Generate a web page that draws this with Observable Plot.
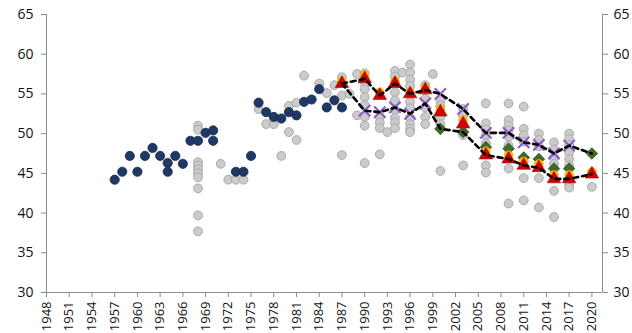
<!DOCTYPE html>
<html>
<head>
<meta charset="utf-8">
<script src="https://cdn.jsdelivr.net/npm/d3@7"></script>
<script src="https://cdn.jsdelivr.net/npm/@observablehq/plot@0.6"></script>
<style>
  html, body { margin: 0; padding: 0; background: #fff; }
  #chart svg { display: block; }
</style>
</head>
<body>
<div id="chart"></div>
<script>
// Tick labels
const xTickYears = [1948,1951,1954,1957,1960,1963,1966,1969,1972,1975,1978,1981,1984,1987,1990,1993,1996,1999,2002,2005,2008,2011,2014,2017,2020];
const yTicks = [30,35,40,45,50,55,60,65];

// Historical (navy) points
const navyYears  = [1957,1958,1959,1960,1961,1962,1963,1964,1964,1965,1966,1967,1968,1969,1970,1970,1973,1974,1975,1976,1977,1978,1979,1980,1981,1982,1983,1984,1985,1986,1987];
const navyValues = [44.2,45.2,47.2,45.2,47.2,48.2,47.2,46.3,45.2,47.2,46.2,49.1,49.1,50.1,50.4,49.1,45.2,45.2,47.2,53.9,52.7,52.1,51.9,52.7,52.3,54.0,54.3,55.6,53.3,54.2,53.3];

// Individual forecasts (grey)
const greyYears = [1968,1971,1972,1973,1974,1976,1977,1978,1979,1980,1981,1982,1984,1985,1986,1987,1988,1989,1990,1992,1993,1994,1995,1996,1998,1999,2000,2003,2006,2009,2011,2013,2015,2017,2020];
const greyValues = [
  [51.0,50.5,46.4,46.0,45.5,45.0,44.5,43.1,39.7,37.7],
  [46.2],[44.2],[44.2],[44.2],[53.1],[51.2],[51.2],[47.2],
  [53.5,50.2],[53.9,49.2],[57.3],[56.3],[55.1],[56.1],
  [57.1,54.8,47.3],[55.0],[57.5,52.3],
  [57.6,56.3,55.6,54.6,53.6,52.1,51.0,46.3],
  [52.1,51.4,50.7,47.4],[50.2],
  [57.9,57.2,55.2,54.2,53.0,52.0,51.4,50.7],[57.7],
  [58.7,57.7,56.8,56.0,54.0,53.2,52.0,51.2,50.6,50.2],
  [56.1,54.4,53.3,52.1,51.2],[57.5],
  [54.2,53.5,52.1,51.2,45.3],
  [53.1,52.3,49.8,46.0],
  [53.8,51.3,50.5,49.8,48.8,46.0,45.1],
  [53.8,51.7,51.0,50.4,49.6,48.5,45.6,41.2],
  [53.4,50.6,49.8,49.0,44.4,41.6],
  [50.0,49.2,48.4,44.4,40.7],
  [48.9,48.0,47.0,46.2,42.8,39.5],
  [50.0,49.3,48.6,47.6,46.8,46.0,43.6,43.2],
  [43.3]
];

// Highlighted forecast series
const orangeYears  = [1987,1990,1992,1994,1996,1998,2000,2003,2006,2009,2011,2013,2015,2017,2020];
const orangeValues = [56.6,57.4,55.2,56.6,55.2,55.8,53.1,51.7,47.8,47.3,46.5,46.2,44.8,44.8,45.2];
const triangleYears  = [1987,1990,1992,1994,1996,1998,2000,2003,2006,2009,2011,2013,2015,2017,2020];
const triangleValues = [56.3,56.9,54.8,56.3,55.0,55.5,52.7,51.2,47.3,46.8,46.0,45.7,44.3,44.3,44.9];
const diamondYears  = [2000,2003,2006,2009,2011,2013,2015,2017,2020];
const diamondValues = [50.6,50.2,48.3,48.1,47.0,46.8,45.6,45.6,47.5];
const crossYears  = [1990,1992,1994,1996,1998,2000,2003,2006,2009,2011,2013,2015,2017];
const crossValues = [52.9,52.7,53.3,52.5,53.8,55.0,53.1,50.1,50.1,48.9,48.6,47.5,48.5];

// Dashed envelope lines
const upperYears  = [1987,1990,1992,1994,1996,1998,2000,2003,2006,2009,2011,2013,2015,2017,2020];
const upperValues = [56.3,56.9,54.8,56.3,55.0,55.5,55.0,53.1,50.1,50.1,48.9,48.6,47.5,48.5,47.5];
const lowerYears  = [1987,1990,1992,1994,1996,1998,2000,2003,2006,2009,2011,2013,2015,2017,2020];
const lowerValues = [56.3,52.9,52.7,53.3,52.5,53.8,50.6,50.2,47.3,46.8,46.0,45.7,44.3,44.3,44.9];

const pts = (xs, ys) => xs.map((x, i) => ({x, y: ys[i]}));
const grey = greyYears.flatMap((yr, i) => greyValues[i].map(v => ({x: yr, y: v})));
const navy = pts(navyYears, navyValues);
const orange = pts(orangeYears, orangeValues);
const tri = pts(triangleYears, triangleValues);
const dia = pts(diamondYears, diamondValues);
const cross = pts(crossYears, crossValues);
const upper = pts(upperYears, upperValues);
const lower = pts(lowerYears, lowerValues);

const xMax = 2021.4;
const axisColor = "#8c8c8c";
const font = "'Open Sans', 'Liberation Sans', sans-serif";

const chart = Plot.plot({
  width: 632,
  height: 333,
  marginLeft: 46,
  marginRight: 30,
  marginTop: 14,
  marginBottom: 41,
  style: {fontFamily: font, fontSize: "13px", color: "#111", background: "#fff"},
  x: {domain: [1948, xMax], axis: null},
  y: {domain: [30, 65], axis: null},
  marks: [
    Plot.ruleX([1948, xMax], {stroke: axisColor, strokeWidth: 1}),
    Plot.ruleY([30], {stroke: axisColor, strokeWidth: 1}),
    Plot.axisY({anchor: "left", ticks: yTicks, tickSize: 5, tickPadding: 8, stroke: axisColor, color: "#111", fontSize: 14, label: null}),
    Plot.axisY({anchor: "right", ticks: yTicks, tickSize: 5, tickPadding: 6, stroke: axisColor, color: "#111", fontSize: 14, label: null}),
    Plot.axisX({anchor: "bottom", ticks: xTickYears, tickFormat: d => String(d), tickRotate: -90, tickSize: 5, tickPadding: 4, stroke: axisColor, color: "#111", fontSize: 13, label: null}),
    Plot.dot(grey, {x: "x", y: "y", r: 4.4, fill: "#cbcbcb", stroke: "#a9a9a9", strokeWidth: 1}),
    Plot.dot(navy, {x: "x", y: "y", r: 4.6, fill: "#1f3864", stroke: "#17294b", strokeWidth: 0.8}),
    Plot.dot(dia, {x: "x", y: "y", symbol: "diamond2", r: 5.2, fill: "#3f6b2a", stroke: "#2f5020", strokeWidth: 0.8}),
    Plot.dot(orange, {x: "x", y: "y", r: 4.4, fill: "#ffc000", stroke: "#e0a800", strokeWidth: 0.6}),
    Plot.dot(tri, {x: "x", y: "y", symbol: "triangle", r: 5, fill: "#d20000", stroke: "#b00000", strokeWidth: 0.6}),
    Plot.dot(cross, {x: "x", y: "y", symbol: "times", r: 5.2, stroke: "#8c5fc4", strokeWidth: 2.2, fill: "none"}),
    Plot.line(upper, {x: "x", y: "y", stroke: "#000", strokeWidth: 2.6, strokeDasharray: "5,4"}),
    Plot.line(lower, {x: "x", y: "y", stroke: "#000", strokeWidth: 2.6, strokeDasharray: "5,4"})
  ]
});
document.getElementById("chart").appendChild(chart);
</script>
</body>
</html>
